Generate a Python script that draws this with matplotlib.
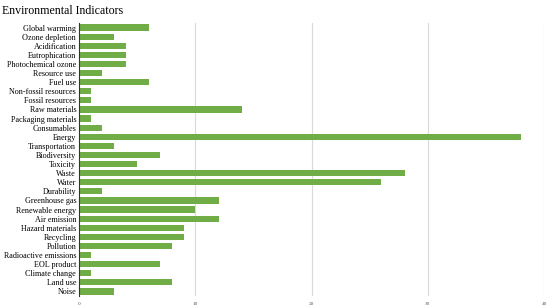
import matplotlib.pyplot as plt

categories = ['Global warming', 'Ozone depletion', 'Acidification', 'Eutrophication',
              'Photochemical ozone', 'Resource use', 'Fuel use', 'Non-fossil resources',
              'Fossil resources', 'Raw materials', 'Packaging materials', 'Consumables',
              'Energy', 'Transportation', 'Biodiversity', 'Toxicity', 'Waste', 'Water',
              'Durability', 'Greenhouse gas', 'Renewable energy', 'Air emission',
              'Hazard materials', 'Recycling', 'Pollution', 'Radioactive emissions',
              'EOL product', 'Climate change', 'Land use', 'Noise']
values = [6, 3, 4, 4, 4, 2, 6, 1, 1, 14, 1, 2, 38, 3, 7, 5, 28, 26, 2, 12, 10, 12,
          9, 9, 8, 1, 7, 1, 8, 3]
xticks = [0, 10, 20, 30, 40]

plt.rcParams['font.family'] = ['Liberation Serif', 'DejaVu Serif']

fig = plt.figure(figsize=(5.5, 3.08), dpi=100)
ax = fig.add_axes([79 / 550, 1 - 296 / 308, (544 - 79) / 550, (296 - 23) / 308])

pos = list(range(len(categories)))
ax.barh(pos, values, height=0.68, color='#70AD47', zorder=2)
ax.set_yticks(pos)
ax.set_yticklabels(categories, fontsize=5.85)
ax.set_ylim(len(categories) - 0.5, -0.5)
ax.set_xlim(0, 40)
ax.set_xticks(xticks)
ax.set_xticklabels([str(t) for t in xticks], fontsize=3.8, color='#555555')
ax.tick_params(axis='both', length=0, pad=2)
ax.tick_params(axis='x', pad=4)
ax.grid(axis='x', color='#d9d9d9', linewidth=0.8, zorder=1)
for s in ['top', 'right', 'bottom']:
    ax.spines[s].set_visible(False)
ax.spines['left'].set_color('#333333')
ax.spines['left'].set_linewidth(0.8)

fig.text(0.004, 0.985, 'Environmental Indicators', fontsize=8.6, va='top', ha='left')

fig.savefig('out.png', dpi=100)
